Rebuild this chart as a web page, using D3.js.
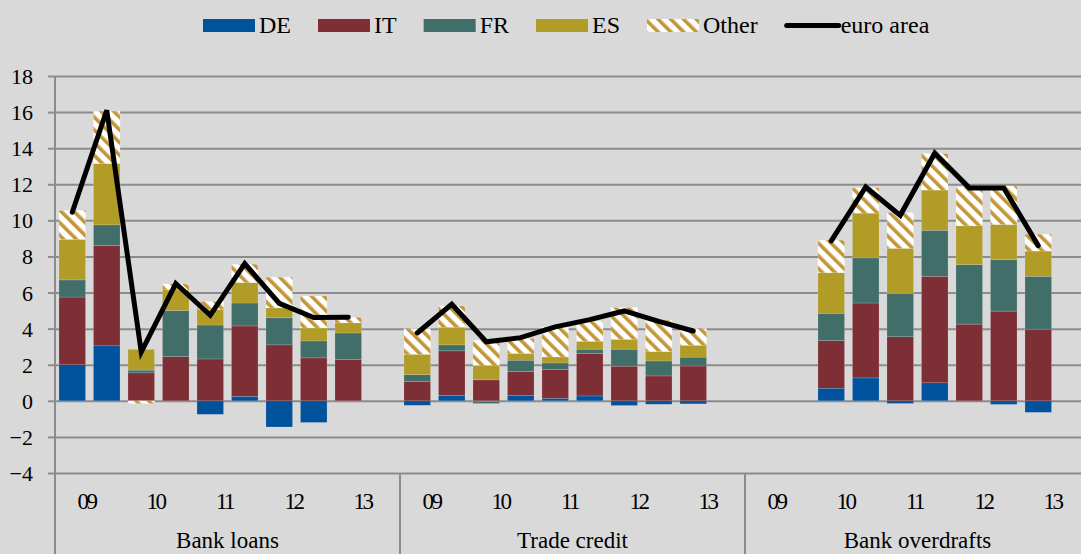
<!DOCTYPE html>
<html>
<head>
<meta charset="utf-8">
<script src="https://cdn.jsdelivr.net/npm/d3@7"></script>
<style>
  html, body { margin: 0; padding: 0; background: #d9d9d9; }
  svg text { font-family: "Liberation Serif", "DejaVu Serif", serif; }
</style>
</head>
<body>
<div id="chart"></div>
<script>
var width = 1081, height = 554;
var serif = "'Liberation Serif', 'DejaVu Serif', serif";

// categories: 3 instruments x 10 half-years (2009 H1 .. 2013 H2)
var groups = ["Bank loans", "Trade credit", "Bank overdrafts"];
var years = ["09", "10", "11", "12", "13"];
var halves = ["H1", "H2"];
var yTicks = [-4, -2, 0, 2, 4, 6, 8, 10, 12, 14, 16, 18];

// contributions per half-year slot (null = no data)
var DE = [2.0, 3.05, 0, 0, -0.75, 0.25, -1.45, -1.2, 0, null,
          -0.25, 0.3, -0.03, 0.29, 0.14, 0.27, -0.26, -0.19, -0.17, null,
          null, null, 0.7, 1.27, -0.15, 1.0, -0.03, -0.2, -0.64, null];
var IT = [3.75, 5.55, 1.55, 2.45, 2.32, 3.9, 3.1, 2.38, 2.3, null,
          1.08, 2.47, 1.16, 1.33, 1.59, 2.35, 1.92, 1.38, 1.93, null,
          null, null, 2.64, 4.15, 3.55, 5.9, 4.25, 4.97, 3.97, null];
var FR = [0.95, 1.15, 0.15, 2.55, 1.88, 1.27, 1.5, 0.94, 1.46, null,
          0.37, 0.33, -0.12, 0.63, 0.37, 0.24, 0.94, 0.83, 0.49, null,
          null, null, 1.51, 2.5, 2.41, 2.55, 3.3, 2.85, 2.93, null];
var ES = [2.25, 3.4, 1.15, 1.15, 0.87, 1.13, 0.55, 0.72, 0.56, null,
          1.13, 0.98, 0.81, 0.38, 0.33, 0.44, 0.55, 0.52, 0.66, null,
          null, null, 2.25, 2.48, 2.49, 2.23, 2.15, 1.95, 1.4, null];
var Other = [1.6, 2.9, -0.15, 0.33, 0.43, 1.02, 1.7, 1.77, 0.31, null,
             1.42, 1.18, 1.39, 0.83, 1.66, 1.1, 1.76, 1.74, 0.92, null,
             null, null, 1.8, 1.4, 1.98, 2.02, 2.15, 2.13, 0.93, null];
var euroArea = [10.45, 16.1, 2.7, 6.5, 4.74, 7.6, 5.4, 4.62, 4.63, null,
                3.76, 5.35, 3.27, 3.5, 4.1, 4.5, 4.98, 4.4, 3.87, null,
                null, null, 8.86, 11.85, 10.28, 13.72, 11.8, 11.8, 8.6, null];

var keys = ["DE", "IT", "FR", "ES", "Other"];
var seriesData = { DE: DE, IT: IT, FR: FR, ES: ES, Other: Other };
var colors = { DE: "#00529c", IT: "#7d2f35", FR: "#426e6a", ES: "#b19c27", Other: "url(#hatch)" };

var slots = [];
groups.forEach(function(g) {
  years.forEach(function(yr) {
    halves.forEach(function(h) { slots.push(g + " " + yr + " " + h); });
  });
});

var rows = slots.map(function(s, i) {
  var r = { slot: i, present: DE[i] != null };
  keys.forEach(function(k) { r[k] = seriesData[k][i] == null ? 0 : seriesData[k][i]; });
  return r;
});

var svg = d3.select("#chart").append("svg")
    .attr("width", width)
    .attr("height", height);

svg.append("rect").attr("width", width).attr("height", height).attr("fill", "#d9d9d9");

// hatch pattern for "Other"
var defs = svg.append("defs");
var pat = defs.append("pattern")
    .attr("id", "hatch")
    .attr("patternUnits", "userSpaceOnUse")
    .attr("width", 9)
    .attr("height", 9)
    .attr("patternTransform", "rotate(-45)");
pat.append("rect").attr("width", 9).attr("height", 9).attr("fill", "#ffffff");
pat.append("rect").attr("width", 3.6).attr("height", 9).attr("fill", "#c4963a");

var x = d3.scaleBand()
    .domain(d3.range(slots.length))
    .range([55, 55 + slots.length * 34.5])
    .paddingInner(0.23)
    .paddingOuter(0.115);

var y = d3.scaleLinear()
    .domain([-4, 18])
    .range([473, 76]);

var gridColor = "#8c8c8c";

// gridlines
var grid = svg.append("g")
    .attr("transform", "translate(55,0)")
    .call(d3.axisLeft(y).tickValues(yTicks).tickSize(-(width - 55)).tickFormat(""));
grid.select(".domain").remove();
grid.selectAll("line").attr("stroke", gridColor).attr("stroke-width", 2);

// y axis
var yAxis = svg.append("g")
    .attr("transform", "translate(55,0)")
    .call(d3.axisLeft(y).tickValues(yTicks).tickSize(7).tickPadding(15).tickFormat(d3.format("d")));
yAxis.attr("font-family", serif);
yAxis.select(".domain").remove();
yAxis.selectAll("line").attr("stroke", gridColor).attr("stroke-width", 2);
yAxis.selectAll("text")
    .attr("fill", "#000")
    .attr("dy", "0.34em")
    .style("font-size", "22px")
    .style("font-family", serif);

// vertical axis line + group separators
var groupEdge = function(g) { return x.range()[0] + g * years.length * halves.length * x.step(); };
svg.append("line")
    .attr("x1", groupEdge(0)).attr("x2", groupEdge(0))
    .attr("y1", y(18)).attr("y2", height)
    .attr("stroke", gridColor).attr("stroke-width", 2);
groups.forEach(function(g, gi) {
  if (gi === 0) return;
  svg.append("line")
      .attr("x1", groupEdge(gi)).attr("x2", groupEdge(gi))
      .attr("y1", y(-4)).attr("y2", height)
      .attr("stroke", gridColor).attr("stroke-width", 2);
});

// stacked bars
var stack = d3.stack().keys(keys).offset(d3.stackOffsetDiverging);
var stacked = stack(rows);

svg.append("g").selectAll("g")
  .data(stacked)
  .join("g")
    .attr("fill", function(d) { return colors[d.key]; })
  .selectAll("rect")
  .data(function(d) { return d.filter(function(p) { return p.data.present && p[1] !== p[0]; }); })
  .join("rect")
    .attr("x", function(d) { return x(d.data.slot); })
    .attr("width", x.bandwidth())
    .attr("y", function(d) { return y(d[1]); })
    .attr("height", function(d) { return y(d[0]) - y(d[1]); })
    .attr("stroke", "rgba(255,255,255,0.25)")
    .attr("stroke-width", 0.6);

// euro area line
var line = d3.line()
    .defined(function(d) { return d != null; })
    .x(function(d, i) { return x(i) + x.bandwidth() / 2; })
    .y(function(d) { return y(d); });

svg.append("path")
    .datum(euroArea)
    .attr("d", line)
    .attr("fill", "none")
    .attr("stroke", "#000")
    .attr("stroke-width", 5)
    .attr("stroke-linejoin", "miter")
    .attr("stroke-linecap", "round");

// category labels
var center = function(i) { return x(i) + x.bandwidth() / 2; };
groups.forEach(function(g, gi) {
  years.forEach(function(yr, yi) {
    var i0 = gi * 10 + yi * 2;
    svg.append("text")
        .attr("x", (center(i0) + center(i0 + 1)) / 2 - 3)
        .attr("y", 509)
        .attr("text-anchor", "middle")
        .attr("letter-spacing", "-2.5px")
        .style("font-family", serif)
        .style("font-size", "23px")
        .text(yr);
  });
  svg.append("text")
      .attr("x", (groupEdge(gi) + groupEdge(gi + 1)) / 2)
      .attr("y", 548)
      .attr("text-anchor", "middle")
      .style("font-family", serif)
      .style("font-size", "23px")
      .text(g);
});

// legend
var legendItems = keys.concat(["euro area"]);
var legend = svg.append("g");
var lx = 203;
legendItems.forEach(function(k) {
  if (k === "euro area") {
    legend.append("line")
        .attr("x1", lx + 2).attr("x2", lx + 54)
        .attr("y1", 25.5).attr("y2", 25.5)
        .attr("stroke", "#000").attr("stroke-width", 5)
        .attr("stroke-linecap", "round");
  } else {
    legend.append("rect")
        .attr("x", lx).attr("y", 19)
        .attr("width", 52).attr("height", 13)
        .attr("fill", colors[k]);
  }
  var t = legend.append("text")
      .attr("x", lx + 56)
      .attr("y", 33)
      .style("font-family", serif)
      .style("font-size", "24px")
      .text(k);
  lx += 56 + t.node().getComputedTextLength() + 27;
});
</script>
</body>
</html>
